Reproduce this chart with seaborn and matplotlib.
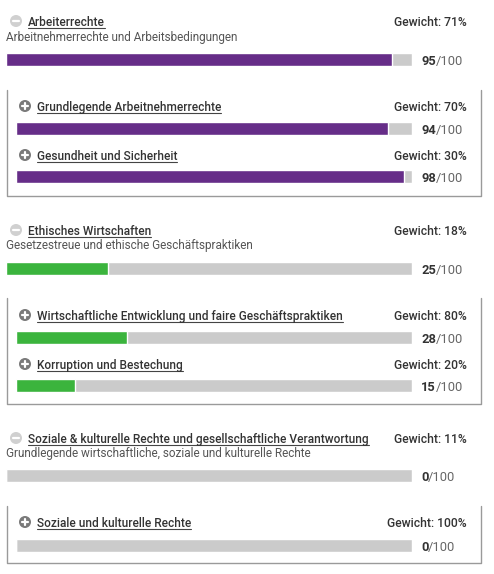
import matplotlib
matplotlib.use("Agg")
import matplotlib.pyplot as plt
import seaborn as sns
from matplotlib.lines import Line2D
from matplotlib.patches import Circle

# data
names = [
    "Arbeiterrechte",
    "Grundlegende Arbeitnehmerrechte",
    "Gesundheit und Sicherheit",
    "Ethisches Wirtschaften",
    "Wirtschaftliche Entwicklung und faire Geschäftspraktiken",
    "Korruption und Bestechung",
    "Soziale & kulturelle Rechte und gesellschaftliche Verantwortung",
    "Soziale und kulturelle Rechte",
]
descriptions = [
    "Arbeitnehmerrechte und Arbeitsbedingungen", "", "",
    "Gesetzestreue und ethische Geschäftspraktiken", "", "",
    "Grundlegende wirtschaftliche, soziale und kulturelle Rechte", "",
]
weights = [71, 70, 30, 18, 80, 20, 11, 100]
scores = [95, 94, 98, 25, 28, 15, 0, 0]
levels = [0, 1, 1, 0, 1, 1, 0, 1]
group_colors = ["#662d88", "#662d88", "#662d88",
                "#3bb43d", "#3bb43d", "#3bb43d",
                "#662d88", "#662d88"]
max_score = 100

# layout in pixels
W, H = 494, 574
header_y = [21, 106, 155, 230, 315, 364, 438, 522]
bar_top = [53, 122, 170, 262, 331, 379, 469, 539]
boxes = [(90, 196), (298, 404), (506, 563)]

sns.set_theme(style="white")
plt.rcParams["font.family"] = ["Roboto", "DejaVu Sans"]

fig = plt.figure(figsize=(W / 100, H / 100), dpi=100)
fig.patch.set_facecolor("white")


def fx(x):
    return x / W


def fy(y):
    return 1 - y / H


renderer = fig.canvas.get_renderer()

for i, name in enumerate(names):
    lvl = levels[i]
    x_icon = 16 if lvl == 0 else 25
    x_text = 28 if lvl == 0 else 37
    x_bar = 6 if lvl == 0 else 16
    hy = header_y[i]

    # expand / collapse icon
    cx, cy = x_icon / 100, (H - hy) / 100
    icon_col = "#d0d0d0" if lvl == 0 else "#7a7a7a"
    fig.patches.append(Circle((cx, cy), 0.06, transform=fig.dpi_scale_trans,
                              facecolor=icon_col, edgecolor="none"))
    fig.lines.append(Line2D([cx - 0.03, cx + 0.03], [cy, cy], color="white", lw=1.6,
                            transform=fig.dpi_scale_trans))
    if lvl == 1:
        fig.lines.append(Line2D([cx, cx], [cy - 0.03, cy + 0.03], color="white", lw=1.6,
                                transform=fig.dpi_scale_trans))

    t = fig.text(fx(x_text), fy(hy + 5), name, fontsize=8.6, weight="medium",
                 color="#333333", va="baseline", ha="left")
    bb = t.get_window_extent(renderer).transformed(fig.transFigure.inverted())
    fig.lines.append(Line2D([bb.x0, bb.x1], [fy(hy + 6.8)] * 2, color="#444444",
                            lw=0.8, transform=fig.transFigure))

    fig.text(fx(467), fy(hy + 5), f"Gewicht: {weights[i]}%", fontsize=8.7,
             weight="medium", color="#333333", va="baseline", ha="right")

    if descriptions[i]:
        fig.text(fx(6), fy(hy + 19.5), descriptions[i], fontsize=8.5,
                 color="#555555", va="baseline", ha="left")

    # score bar
    bh = 12.5
    ax = fig.add_axes([fx(x_bar), fy(bar_top[i] + bh), fx(412 - x_bar), bh / H])
    sns.barplot(x=[max_score], y=[0], orient="h", color="#cbcbcb", width=1,
                saturation=1, ax=ax)
    sns.barplot(x=[scores[i]], y=[0], orient="h", color=group_colors[i], width=1,
                saturation=1, ax=ax)
    ax.set_xlim(0, max_score)
    ax.set_ylim(0.5, -0.5)
    ax.axis("off")

    sy = fy(bar_top[i] + 12.3)
    s = fig.text(fx(421), sy, str(scores[i]), fontsize=9.3, weight="bold",
                 color="#333333", va="baseline", ha="left")
    sb = s.get_window_extent(renderer).transformed(fig.transFigure.inverted())
    fig.text(sb.x1, sy, f"/{max_score}", fontsize=9.3, color="#666666",
             va="baseline", ha="left")

# sub-item boxes (no top edge)
for top, bottom in boxes:
    fig.lines.append(Line2D([fx(7), fx(7), fx(481), fx(481)],
                            [fy(top), fy(bottom), fy(bottom), fy(top)],
                            color="#9a9a9a", lw=1.0, transform=fig.transFigure))

fig.savefig("out.png", dpi=100, facecolor="white")
